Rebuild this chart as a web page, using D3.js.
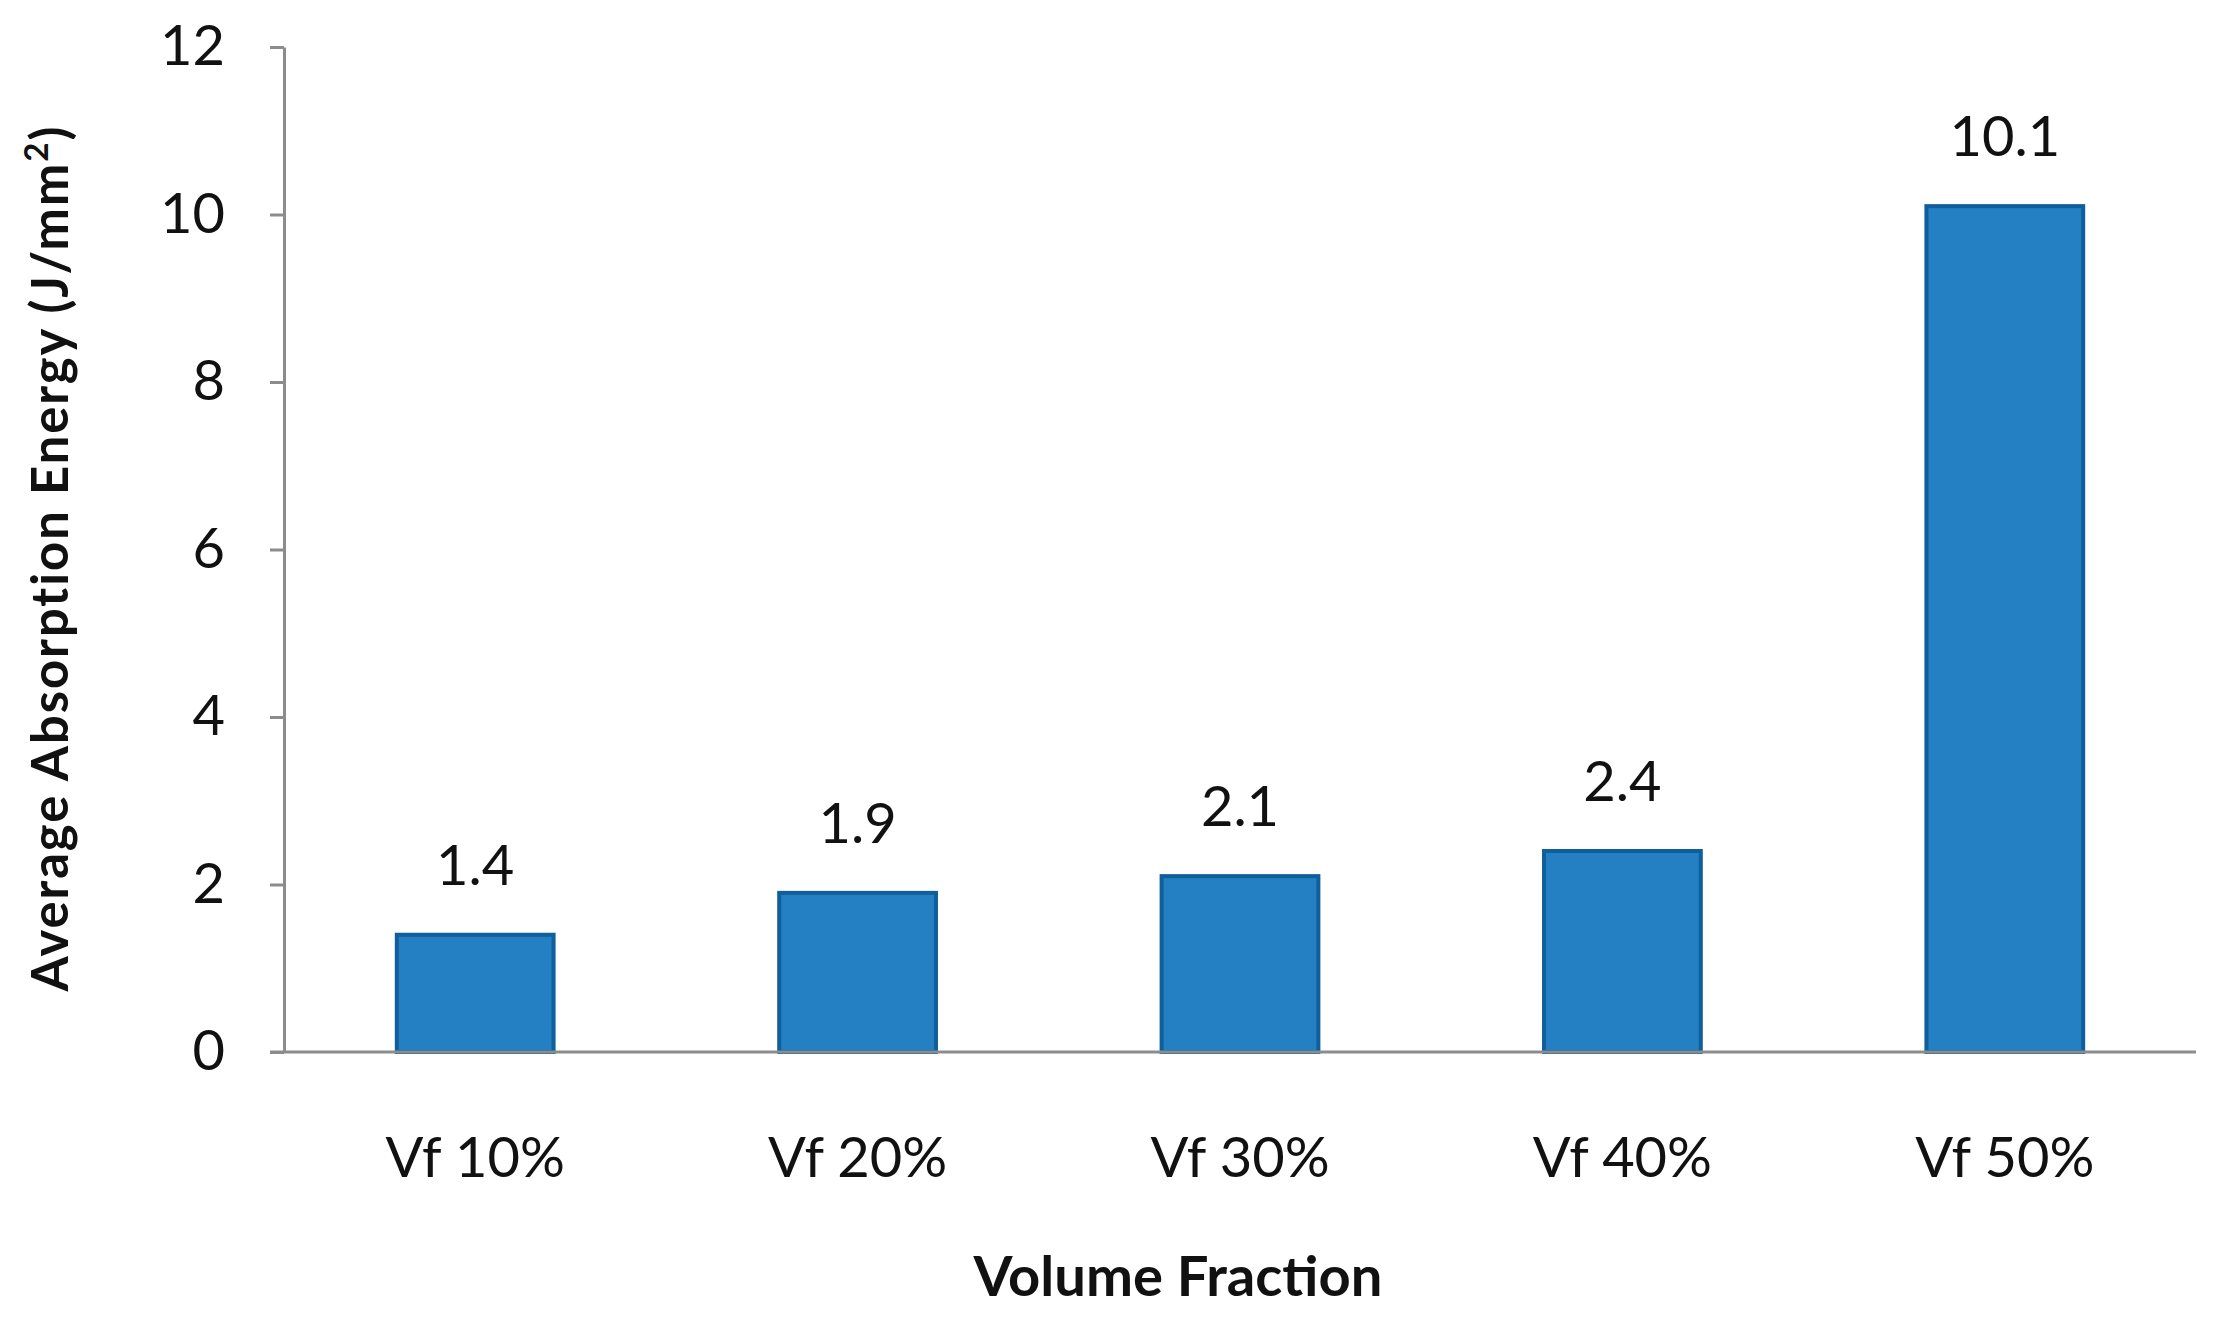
<!DOCTYPE html>
<html><head><meta charset="utf-8">
<script src="https://cdn.jsdelivr.net/npm/d3@7"></script>
<style>html,body{margin:0;padding:0;background:#fff;}</style>
</head><body><svg id="c" width="2229" height="1332"></svg>
<script>
const categories = ["Vf 10%", "Vf 20%", "Vf 30%", "Vf 40%", "Vf 50%"];
const values = [1.4, 1.9, 2.1, 2.4, 10.1];
const valueLabels = ["1.4", "1.9", "2.1", "2.4", "10.1"];
const yTicks = [0, 2, 4, 6, 8, 10, 12];
const yTitle = "Average Absorption Energy (J/mm";
const xTitle = "Volume Fraction";

(function () {
const svg = d3.select("#c");
const mLeft = 284, mRight = 2196, mTop = 47, mBottom = 1052;
const font = "Lato, 'Open Sans', sans-serif";

const x = d3.scaleBand().domain(categories).range([mLeft, mRight]).paddingInner(0.59).paddingOuter(0.295);
const y = d3.scaleLinear().domain([0, 12]).range([mBottom, mTop]);

// bars
svg.append("g").selectAll("rect").data(values).join("rect")
  .attr("x", (d, i) => x(categories[i]))
  .attr("y", d => y(d))
  .attr("width", x.bandwidth())
  .attr("height", d => y(0) - y(d))
  .attr("fill", "#2580c3")
  .attr("stroke", "#0f5f9c")
  .attr("stroke-width", 4);

// y axis
const ya = svg.append("g").attr("transform", `translate(${mLeft},0)`)
  .call(d3.axisLeft(y).tickValues(yTicks).tickSize(14).tickPadding(45).tickSizeOuter(0));
ya.select(".domain").attr("stroke", "#8c8c8c").attr("stroke-width", 3);
ya.selectAll(".tick line").attr("stroke", "#8c8c8c").attr("stroke-width", 3);
ya.selectAll("text").attr("font-family", font).attr("font-size", 56).attr("fill", "#111");

// x axis
const xa = svg.append("g").attr("transform", `translate(0,${mBottom})`)
  .call(d3.axisBottom(x).tickSize(0).tickPadding(85).tickSizeOuter(0));
xa.select(".domain").attr("stroke", "#8c8c8c").attr("stroke-width", 3)
  .attr("d", `M${mLeft - 14},0H${mRight}`);
xa.selectAll("text").attr("font-family", font).attr("font-size", 56).attr("fill", "#111");

// value labels
svg.append("g").selectAll("text").data(values).join("text")
  .attr("x", (d, i) => x(categories[i]) + x.bandwidth() / 2)
  .attr("y", d => y(d) - 50)
  .attr("text-anchor", "middle")
  .attr("font-family", font).attr("font-size", 56).attr("fill", "#111")
  .text((d, i) => valueLabels[i]);

// y title
const yt = svg.append("text")
  .attr("transform", "translate(68,558) rotate(-90)")
  .attr("text-anchor", "middle")
  .attr("font-family", font).attr("font-weight", "bold").attr("font-size", 46).attr("fill", "#111")
  .attr("letter-spacing", 2);
yt.append("tspan").text(yTitle);
yt.append("tspan").attr("font-size", 30).attr("dy", -18).text("2");
yt.append("tspan").attr("dy", 18).text(")");
{
  const len = yt.node().getComputedTextLength();
  const s = 874 / len;
  yt.attr("font-size", 46 * s);
  yt.selectAll("tspan").filter((d, i) => i === 1).attr("font-size", 30 * s).attr("dy", -18 * s);
  yt.selectAll("tspan").filter((d, i) => i === 2).attr("dy", 18 * s);
}

// x title
const xt = svg.append("text")
  .attr("x", 1178).attr("y", 1296)
  .attr("text-anchor", "middle")
  .attr("font-family", font).attr("font-weight", "bold").attr("font-size", 46).attr("fill", "#111")
  .text(xTitle);
{
  const len = xt.node().getComputedTextLength();
  xt.attr("font-size", 46 * 409 / len);
}
})();
</script></body></html>
